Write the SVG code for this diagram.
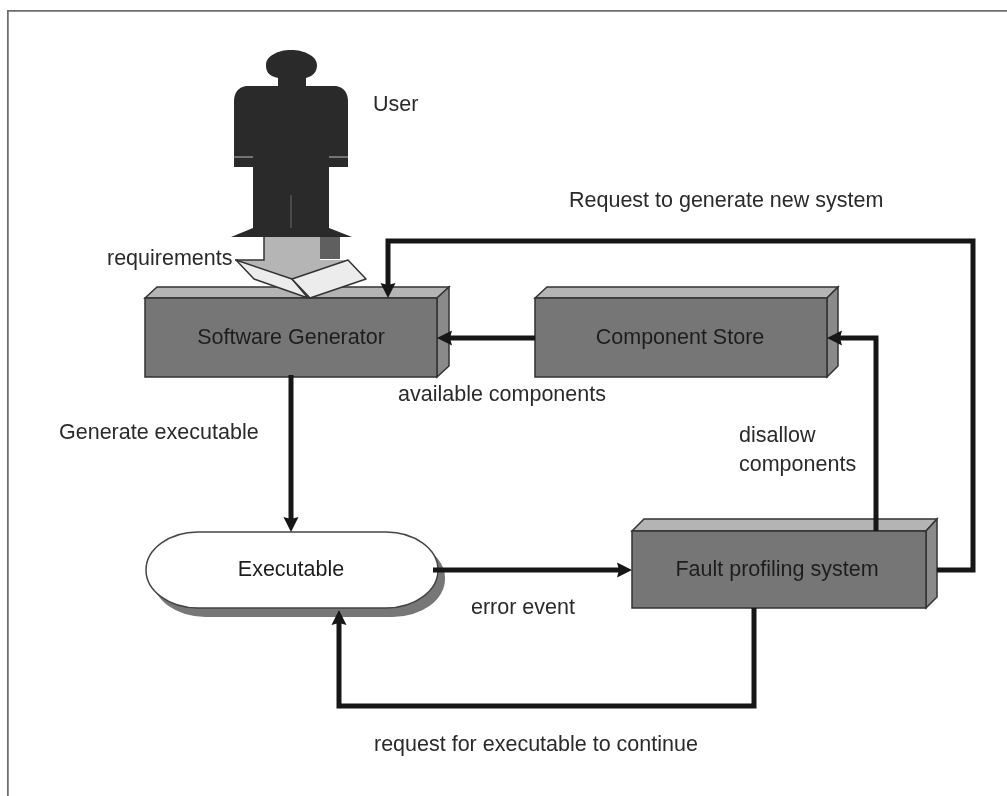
<svg xmlns="http://www.w3.org/2000/svg" width="1007" height="796" viewBox="0 0 1007 796">
<style>
text{font-family:"Liberation Sans",Arial,sans-serif;font-size:21.500px;fill:#2a2a2a}
.mid{text-anchor:middle;fill:#1f1f1f}
.front{fill:#767676;stroke:#333;stroke-width:1.500}
.top{fill:#b4b4b4;stroke:#333;stroke-width:1.500}
.side{fill:#8a8a8a;stroke:#333;stroke-width:1.500}
.wire{fill:none;stroke:#141414;stroke-width:5;stroke-linejoin:miter}
.fold{fill:#ececec;stroke:#333;stroke-width:1.500;stroke-linejoin:round}
.man{fill:#29292b}
</style>
<defs>
<marker id="arrow" markerUnits="userSpaceOnUse" markerWidth="16" markerHeight="16" refX="6" refY="8" orient="auto"><path d="M0 0.500L15 8L0 15.500L2 8Z" fill="#141414"/></marker>
<filter id="soft" x="0" y="0" width="100%" height="100%"><feGaussianBlur stdDeviation="0.600"/></filter>
</defs>
<rect width="1007" height="796" fill="#fff"/>
<g filter="url(#soft)">
<path id="frame" d="M7.500 796V10.500H1007" fill="none" stroke="#6e6e6e" stroke-width="2.500"/>

<g id="user">
<path class="man" d="M278 78C268 76 266 71 266 65C266 56 278 50 291 50C304 50 317 56 317 65C317 71 314 76 306 78V86H336Q348 88 348 102V167H329V228L352 237H231L253 228V167H234V102Q234 88 246 86H278Z"/>
<path d="M234 157H253M329 157H348" stroke="#8c8c8c" stroke-width="1.500"/>
<path d="M291 195V228" stroke="#4a4a4c" stroke-width="2"/>
<text x="373" y="111">User</text>
</g>

<g id="software-generator">
<path class="top" d="M145 298L157 287H449L437 298Z"/>
<path class="side" d="M437 298L449 287V366L437 377Z"/>
<rect class="front" x="145" y="298" width="292" height="79"/>
<text class="mid" x="291" y="344">Software Generator</text>
</g>

<g id="requirements">
<path d="M264 237H320V260H348L292 279L235 260H264Z" fill="#b5b5b5"/>
<path d="M264 237V260H235" fill="none" stroke="#333" stroke-width="1.500"/>
<path d="M320 237H340V259H320Z" fill="#5f5f5f"/>
<path class="fold" d="M236 260L292 279L308 298L254 279Z"/>
<path class="fold" d="M292 279L348 260L366 279L310 298Z"/>
<text x="107" y="265">requirements</text>
</g>

<g id="component-store">
<path class="top" d="M535 298L547 287H838L827 298Z"/>
<path class="side" d="M827 298L838 287V366L827 377Z"/>
<rect class="front" x="535" y="298" width="292" height="79"/>
<text class="mid" x="680" y="344">Component Store</text>
</g>

<g id="fault-profiling-system">
<path class="top" d="M632 531L644 519H937L926 531Z"/>
<path class="side" d="M926 531L937 519V597L926 608Z"/>
<rect class="front" x="632" y="531" width="294" height="77"/>
<text class="mid" x="777" y="576">Fault profiling system</text>
</g>

<g id="executable">
<rect x="153" y="540" width="292" height="77" rx="52" ry="38" fill="#777"/>
<rect x="146" y="532" width="292" height="76" rx="52" ry="38" fill="#fff" stroke="#444" stroke-width="1.500"/>
<text class="mid" x="291" y="576">Executable</text>
</g>

<g id="connectors">
<path class="wire" marker-end="url(#arrow)" d="M291 375V523"/>
<path class="wire" marker-end="url(#arrow)" d="M535 338H446"/>
<path class="wire" marker-end="url(#arrow)" d="M433 570H623"/>
<path class="wire" marker-end="url(#arrow)" d="M754 608V706H339V619"/>
<path class="wire" marker-end="url(#arrow)" d="M876 531V338H836"/>
<path class="wire" marker-end="url(#arrow)" d="M937 570H973V241H388V289"/>
</g>

<g id="labels">
<text x="569" y="207">Request to generate new system</text>
<text x="398" y="401">available components</text>
<text x="59" y="439">Generate executable</text>
<text x="739" y="442">disallow</text>
<text x="739" y="471">components</text>
<text x="471" y="614">error event</text>
<text x="374" y="751">request for executable to continue</text>
</g>
</g>
</svg>
